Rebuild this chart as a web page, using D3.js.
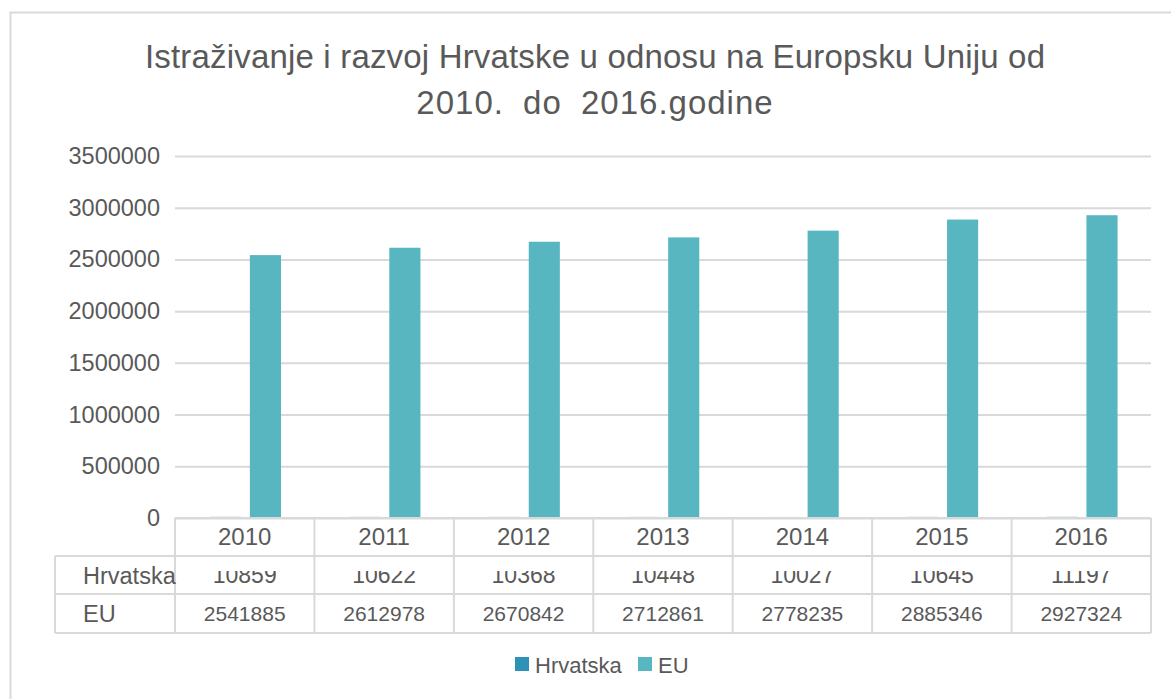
<!DOCTYPE html>
<html>
<head>
<meta charset="utf-8">
<script src="https://cdn.jsdelivr.net/npm/d3@7"></script>
<style>
  body { margin: 0; background: #fff; }
  text { font-family: "Liberation Sans", Arial, sans-serif; fill: #595959; }
</style>
</head>
<body>
<div id="chart"></div>
<script>
// data
var years = ["2010", "2011", "2012", "2013", "2014", "2015", "2016"];
var hrvatska = [10859, 10622, 10368, 10448, 10027, 10645, 11197];
var eu = [2541885, 2612978, 2670842, 2712861, 2778235, 2885346, 2927324];
var seriesNames = ["Hrvatska", "EU"];
var yTicks = [0, 500000, 1000000, 1500000, 2000000, 2500000, 3000000, 3500000];
var titleLines = ["Istraživanje i razvoj Hrvatske u odnosu na Europsku Uniju od", "2010. do 2016.godine"];

var colors = {"Hrvatska": "#2e92b6", "EU": "#58b6c0"};
var grid = "#d9d9d9";

var W = 1171, H = 699;
var plot = {left: 175, right: 1151, top: 156, bottom: 518};
var rowH = 38;

var svg = d3.select("#chart").append("svg")
    .attr("width", W)
    .attr("height", H);

// outer chart frame
svg.append("rect")
    .attr("x", 10.5).attr("y", 12.5)
    .attr("width", W + 20).attr("height", H + 20)
    .attr("fill", "none")
    .attr("stroke", grid)
    .attr("stroke-width", 2);

// title: first line stretched to full width, second one a bit spaced out
var title = svg.append("g");
title.append("text")
    .attr("x", 595).attr("y", 68)
    .attr("text-anchor", "middle")
    .attr("font-size", "33px")
    .attr("textLength", 900)
    .attr("lengthAdjust", "spacing")
    .text(titleLines[0]);
title.append("text")
    .attr("x", 595).attr("y", 114)
    .attr("text-anchor", "middle")
    .attr("font-size", "33px")
    .style("letter-spacing", "1px")
    .style("word-spacing", "9px")
    .text(titleLines[1]);

// scales
var x = d3.scaleBand()
    .domain(years)
    .range([plot.left, plot.right]);

var x1 = d3.scaleBand()
    .domain(seriesNames)
    .range([35, 106])
    .paddingInner(0.22);

var y = d3.scaleLinear()
    .domain([0, 3500000])
    .range([plot.bottom, plot.top]);

// gridlines + y labels
var yAxis = d3.axisLeft(y)
    .tickValues(yTicks)
    .tickSize(-(plot.right - plot.left))
    .tickPadding(15)
    .tickFormat(d3.format("d"));

var gy = svg.append("g")
    .attr("transform", "translate(" + plot.left + ",0)")
    .call(yAxis);
gy.select(".domain").remove();
gy.selectAll(".tick line").attr("stroke", grid).attr("stroke-width", 2);
gy.selectAll(".tick text")
    .attr("font-size", "23.5px")
    .attr("font-family", "Liberation Sans, Arial, sans-serif")
    .attr("fill", "#595959");

// bars
var rows = years.map(function(yr, i) {
  return {year: yr, values: [{key: "Hrvatska", v: hrvatska[i]}, {key: "EU", v: eu[i]}]};
});

var groups = svg.append("g").selectAll("g")
  .data(rows)
  .enter().append("g")
    .attr("transform", function(d) { return "translate(" + x(d.year) + ",0)"; });

groups.selectAll("rect")
  .data(function(d) { return d.values; })
  .enter().append("rect")
    .attr("x", function(d) { return x1(d.key); })
    .attr("y", function(d) { return y(d.v); })
    .attr("width", x1.bandwidth())
    .attr("height", function(d) { return y(0) - y(d.v); })
    .attr("fill", function(d) { return colors[d.key]; });

// data table under the chart
var table = svg.append("g");
var tTop = plot.bottom;
var labelLeft = 55;

function hline(x1p, x2p, yp) {
  table.append("line")
    .attr("x1", x1p).attr("x2", x2p).attr("y1", yp).attr("y2", yp)
    .attr("stroke", grid).attr("stroke-width", 2);
}
function vline(xp, y1p, y2p) {
  table.append("line")
    .attr("x1", xp).attr("x2", xp).attr("y1", y1p).attr("y2", y2p)
    .attr("stroke", grid).attr("stroke-width", 2);
}

hline(plot.left, plot.right, tTop);
hline(labelLeft, plot.right, tTop + rowH);
hline(labelLeft, plot.right, tTop + 2 * rowH);
hline(labelLeft, plot.right, tTop + 3 * rowH + 1);
vline(labelLeft, tTop + rowH, tTop + 3 * rowH + 1);
years.forEach(function(yr) { vline(x(yr), tTop, tTop + 3 * rowH + 1); });
vline(plot.right, tTop, tTop + 3 * rowH + 1);

// category row
table.selectAll(".yr")
  .data(years)
  .enter().append("text")
    .attr("class", "yr")
    .attr("x", function(d) { return x(d) + x.bandwidth() / 2; })
    .attr("y", tTop + 27)
    .attr("text-anchor", "middle")
    .attr("font-size", "24px")
    .text(function(d) { return d; });

// series rows (the Hrvatska values are cut off at the top in the original)
var clip = svg.append("defs").append("clipPath").attr("id", "hrClip");
clip.append("rect")
    .attr("x", plot.left).attr("y", tTop + rowH + 15)
    .attr("width", plot.right - plot.left).attr("height", rowH);

var seriesRows = [{name: "Hrvatska", vals: hrvatska}, {name: "EU", vals: eu}];
seriesRows.forEach(function(s, r) {
  var base = tTop + rowH * (r + 1);
  table.append("text")
    .attr("x", 83)
    .attr("y", base + 28)
    .attr("font-size", "23.5px")
    .text(s.name);
  var g = table.append("g");
  if (s.name == "Hrvatska") g.attr("clip-path", "url(#hrClip)");
  g.selectAll("text")
    .data(s.vals)
    .enter().append("text")
      .attr("x", function(d, i) { return x(years[i]) + x.bandwidth() / 2; })
      .attr("y", base + 27)
      .attr("text-anchor", "middle")
      .attr("font-size", r == 0 ? "23px" : "21px")
      .text(function(d) { return d; });
});

// legend
var legend = svg.append("g").selectAll("g")
  .data(seriesNames)
  .enter().append("g")
    .attr("transform", function(d, i) { return "translate(" + (515 + i * 123) + ",657)"; });
legend.append("rect")
    .attr("width", 14).attr("height", 14)
    .attr("fill", function(d) { return colors[d]; });
legend.append("text")
    .attr("x", 20).attr("y", 16)
    .attr("font-size", "22px")
    .text(function(d) { return d; });
</script>
</body>
</html>
